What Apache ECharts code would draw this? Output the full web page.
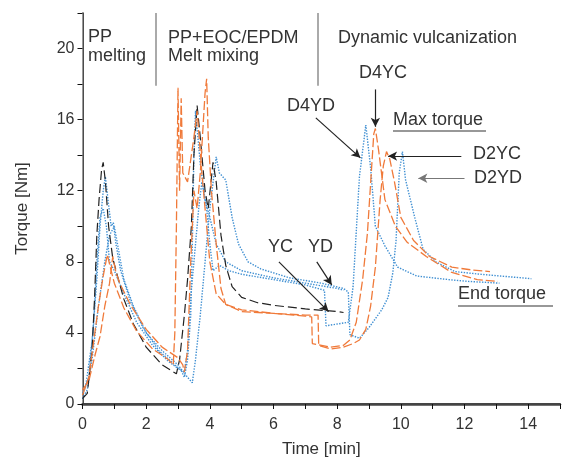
<!DOCTYPE html>
<html><head><meta charset="utf-8">
<script src="https://cdn.jsdelivr.net/npm/echarts@6/dist/echarts.min.js"></script>
<style>html,body{margin:0;padding:0;background:#fff}#c{width:562px;height:457px}</style>
</head><body><div id="c"></div>
<script>
// Time [min], Torque [Nm]
const xTicks = [0, 2, 4, 6, 8, 10, 12, 14];
const yTicks = [0, 4, 8, 12, 16, 20];

const YC = [[0,0.3],[0.15,0.6],[0.3,3],[0.38,6],[0.45,9.5],[0.52,11.5],[0.6,13.2],[0.65,13.6],[0.72,12.5],[0.82,10],[0.95,8.2],[1.1,7.2],[1.3,5.9],[1.6,4.5],[2.0,3.2],[2.5,2.2],[2.95,1.7],[3.05,2.5],[3.2,5],[3.3,7],[3.42,10],[3.5,14],[3.6,16.8],[3.7,15],[3.85,12],[3.95,11],[4.1,13.6],[4.2,12.5],[4.35,9.5],[4.5,7.8],[4.7,6.6],[5.0,6.0],[5.5,5.7],[6.0,5.55],[7.0,5.35],[8.0,5.2],[8.2,5.15]];

const D4YC = [[0,0.5],[0.1,1.0],[0.2,1.5],[0.35,3.5],[0.5,5.5],[0.65,7.2],[0.78,8.4],[0.9,7.5],[1.0,6.8],[1.3,5.4],[1.7,4.1],[2.2,3.1],[2.7,2.5],[2.85,2.2],[2.9,4],[2.95,10],[3.0,17.8],[3.05,12],[3.1,17.2],[3.15,13],[3.3,12.5],[3.5,15],[3.6,16.5],[3.75,13],[3.9,10],[4.0,8],[4.2,6.2],[4.5,5.6],[5,5.3],[6,5.1],[7,4.95],[7.2,4.9],[7.22,3.4],[7.8,3.2],[8.2,3.3],[8.4,3.6],[8.6,4.6],[8.8,7],[8.95,9.6],[9.05,12.4],[9.15,15.2],[9.2,15.5],[9.3,14.3],[9.5,11.5],[9.83,10],[10.2,9.1],[10.8,8.3],[11.6,7.4],[12.4,7.0],[13.05,6.9]];

const D2YC = [[0,0.8],[0.2,1.3],[0.4,2.8],[0.55,3.8],[0.7,5.5],[0.85,6.8],[0.95,8.3],[1.05,7.4],[1.17,6.8],[1.5,5.6],[2.0,4.2],[2.5,3.2],[3.0,2.6],[3.15,2.2],[3.2,1.8],[3.3,3],[3.4,8],[3.5,12],[3.6,11],[3.7,13],[3.85,17.5],[3.9,18.3],[3.95,15],[4.05,12],[4.2,9],[4.35,6.5],[4.5,5.6],[5,5.2],[6,5.1],[7,5.0],[7.4,5.0],[7.42,3.3],[7.8,3.1],[8.2,3.2],[8.5,3.4],[8.7,3.6],[8.9,4.2],[9.05,5.5],[9.2,7.7],[9.35,11.5],[9.45,13.4],[9.55,14.2],[9.65,13.8],[9.8,12.5],[10.0,10.5],[10.4,9.2],[10.9,8.3],[11.6,7.7],[12.2,7.55],[12.8,7.45]];

const YD = [[0,0.5],[0.1,1.0],[0.3,3.5],[0.45,7],[0.55,10],[0.65,12],[0.72,12.8],[0.8,11.5],[0.9,10],[0.97,10.2],[1.05,9],[1.2,7.5],[1.5,5.8],[1.9,4.3],[2.4,3.0],[2.9,2.2],[3.1,1.9],[3.2,1.5],[3.3,2.5],[3.4,5],[3.45,9],[3.5,14],[3.55,16.5],[3.6,15.5],[3.7,13.5],[3.85,11.5],[4.0,10.5],[4.2,9],[4.5,8],[5,7.5],[6,7.1],[7,6.8],[8,6.5],[8.2,6.4]];

const D4YD = [[0,0.6],[0.2,1.5],[0.35,4.5],[0.45,8],[0.55,10.5],[0.65,11],[0.75,10],[0.85,8],[1.0,7.5],[1.3,6.2],[1.7,4.6],[2.2,3.3],[2.7,2.4],[3.0,2.0],[3.2,1.8],[3.3,3],[3.4,6],[3.5,8],[3.65,11],[3.75,12.5],[3.9,11],[4.0,9],[4.1,7.5],[4.3,7.8],[4.6,7.5],[5,7.3],[6,7.0],[7,6.7],[7.6,6.4],[7.65,4.4],[8.0,4.5],[8.35,4.6],[8.5,6.6],[8.7,12.8],[8.9,15.7],[9.05,13.3],[9.2,10],[9.5,8.9],[9.9,7.7],[10.5,7.2],[11.5,7.0],[12.1,6.9],[13.1,6.8]];

const D2YD = [[0,0.3],[0.15,0.8],[0.3,2.5],[0.5,5.5],[0.7,8],[0.85,9.5],[1.0,10],[1.1,9],[1.3,7],[1.6,5.5],[2.0,4.0],[2.5,3.0],[3.0,2.2],[3.3,1.5],[3.45,1.2],[3.55,2.5],[3.7,5],[3.85,8],[4.0,11],[4.2,13.9],[4.3,13],[4.5,12.6],[4.7,10.5],[4.9,9],[5.2,8],[5.6,7.6],[6.5,7.1],[7.5,6.8],[8.2,6.5],[8.35,6.3],[8.4,3.9],[8.7,3.7],[9.0,4.3],[9.4,5.3],[9.6,6.0],[9.75,7.4],[9.85,9.2],[9.95,13],[10.05,14.2],[10.15,12.6],[10.45,10.4],[10.7,8.7],[11.1,8.0],[11.7,7.45],[12.5,7.3],[14.1,7.05]];

// stage separators (time) and their lower end (torque)
const stageLines = [2.3, 7.4];
const stageLineBottom = 17.9;

// annotation arrows: [from, to] in data coords
const arrows = [
  {name:'D4YC', from:[9.2,17.7], to:[9.2,15.6], color:'#222'},
  {name:'D4YD', from:[7.33,16.1], to:[8.73,13.85], color:'#222'},
  {name:'D2YC', from:[11.9,13.95], to:[9.6,13.95], color:'#222'},
  {name:'D2YD', from:[12.0,12.7], to:[10.55,12.7], color:'#777'},
  {name:'YC', from:[6.17,8.0], to:[7.73,5.2], color:'#222'},
  {name:'YD', from:[7.36,8.0], to:[7.83,6.7], color:'#222'}
];

const ORANGE = '#F07A3A', BLUE = '#3F8FD2', BLACK = '#222';
const FONT = 'Liberation Sans';

function line(name, data, color, type, width) {
  return {name, type:'line', data, showSymbol:false, symbol:'none', animation:false,
    lineStyle:{color, type, width: width || 1.2}, z: 3};
}

const chart = echarts.init(document.getElementById('c'), null, {width:562, height:457});
const series = [
  line('D2YD', D2YD, BLUE, 'dotted', 1.4),
  line('D4YD', D4YD, BLUE, 'dotted', 1.4),
  line('YD', YD, BLUE, 'dotted', 1.4),
  line('YC', YC, BLACK, [9,4], 1.2),
  line('D2YC', D2YC, ORANGE, [9,3], 1.3),
  line('D4YC', D4YC, ORANGE, [9,3], 1.3)
];
series.push({
  type:'line', data:[], animation:false,
  markLine:{silent:true, symbol:'none', animation:false, label:{show:false},
    lineStyle:{color:'#aaa', width:2, type:'solid'},
    data: stageLines.map(t => [{coord:[t,22]},{coord:[t,stageLineBottom]}])}
});
series.push({
  type:'line', data:[], animation:false,
  markLine:{silent:true, symbol:['none','arrow'], symbolSize:[7,9], animation:false, label:{show:false},
    data: arrows.map(a => [{coord:a.from, lineStyle:{color:a.color, width:1.2, type:'solid'}},{coord:a.to}])}
});

chart.setOption({
  backgroundColor:'#fff',
  textStyle:{fontFamily:FONT},
  grid:{left:82.5, right:2, top:13, bottom:53, containLabel:false, outerBoundsMode:'none'},
  xAxis:[{
    type:'value', min:0, max:15, interval:1,
    name:'Time [min]', nameLocation:'middle', nameGap:37,
    nameTextStyle:{fontSize:17, color:'#333', fontFamily:FONT},
    axisLine:{show:true, lineStyle:{color:'#111', width:1.5}},
    axisTick:{show:true, inside:false, length:5, lineStyle:{color:'#111'}},
    axisLabel:{fontSize:16, color:'#333', margin:13, fontFamily:FONT,
      formatter: v => xTicks.includes(v) ? String(v) : ''},
    splitLine:{show:false}
  },{
    type:'value', position:'top', min:0, max:15,
    axisLine:{show:true, lineStyle:{color:'#444', width:2.5}},
    axisTick:{show:false}, axisLabel:{show:false}, splitLine:{show:false}
  }],
  yAxis:[{
    type:'value', min:0, max:22, interval:2,
    name:'Torque [Nm]', nameLocation:'middle', nameGap:52,
    nameTextStyle:{fontSize:17, color:'#333', fontFamily:FONT},
    axisLine:{show:true, lineStyle:{color:'#111', width:1.5}},
    axisTick:{show:true, inside:false, length:5, lineStyle:{color:'#111'}},
    axisLabel:{fontSize:16, color:'#333', margin:8, fontFamily:FONT,
      formatter: v => yTicks.includes(v) ? String(v) : ''},
    splitLine:{show:false}
  },{
    type:'value', position:'right', min:0, max:22,
    axisLine:{show:true, lineStyle:{color:'#999', width:1}},
    axisTick:{show:false}, axisLabel:{show:false}, splitLine:{show:false}
  }],
  series
});

// text annotations (y given as text baseline)
const txt = (text, x, base) => ({type:'text', silent:true, z:10,
  style:{text, x, y: base - 6.5, fill:'#333', font:'18px "' + FONT + '"', verticalAlign:'middle', align:'left'}});
const ul = (x1, x2, y) => ({type:'line', silent:true, z:10, shape:{x1, y1:y, x2, y2:y}, style:{stroke:'#333', lineWidth:1.2}});
chart.setOption({graphic:[
  txt('PP', 88, 44), txt('melting', 88, 63),
  txt('PP+EOC/EPDM', 168, 45), txt('Melt mixing', 168, 63),
  txt('Dynamic vulcanization', 338, 45),
  txt('D4YC', 359, 80), txt('D4YD', 287, 113),
  txt('Max torque', 393, 127), ul(393, 486, 131),
  txt('D2YC', 473, 161), txt('D2YD', 474, 185),
  txt('YC', 268, 254), txt('YD', 308, 254),
  txt('End torque', 458, 301), ul(458, 553, 306)
]});
</script></body></html>
